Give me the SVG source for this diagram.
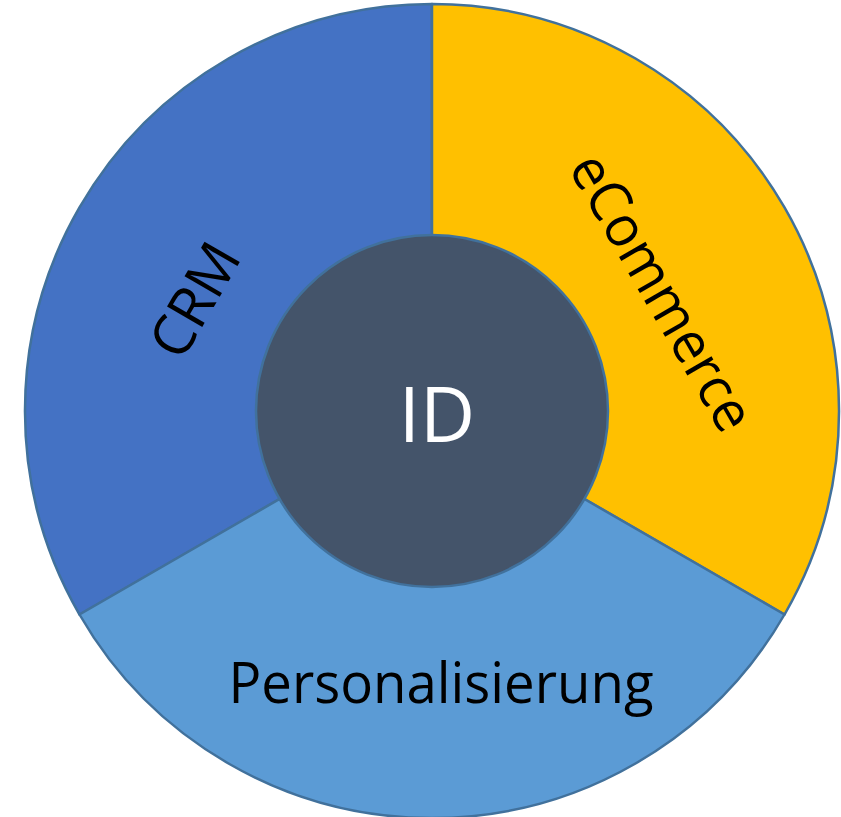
<svg xmlns="http://www.w3.org/2000/svg" width="841" height="817" viewBox="0 0 841 817">
<style>
.seg{stroke:#41719C;stroke-width:2.5;stroke-linejoin:round}
.lbl{font-family:"Open Sans","Noto Sans","Liberation Sans",sans-serif;font-size:57px;fill:#000}
.id{font-family:"Open Sans","Noto Sans","Liberation Sans",sans-serif;font-size:76px;fill:#fff}
</style>
<rect width="841" height="817" fill="#fff"/>
<g id="crm">
<path class="seg" fill="#4472C4" d="M432,411 L79.5,614.5 A407,407 0 0 1 432,4 Z"/>
<text class="lbl" transform="translate(212,310) rotate(-60)" text-anchor="middle" textLength="122" lengthAdjust="spacingAndGlyphs">CRM</text>
</g>
<g id="ecommerce">
<path class="seg" fill="#FFC000" d="M432,411 L432,4 A407,407 0 0 1 784.5,614.5 Z"/>
<text class="lbl" transform="translate(645,302) rotate(60)" text-anchor="middle" textLength="310" lengthAdjust="spacingAndGlyphs">eCommerce</text>
</g>
<g id="personalisierung">
<path class="seg" fill="#5B9BD5" d="M432,411 L784.5,614.5 A407,407 0 0 1 79.5,614.5 Z"/>
<text class="lbl" x="441" y="703" text-anchor="middle" textLength="425" lengthAdjust="spacingAndGlyphs">Personalisierung</text>
</g>
<g id="id">
<circle class="seg" cx="432" cy="411" r="176" fill="#44546A"/>
<text class="id" x="437" y="442" text-anchor="middle">ID</text>
</g>
</svg>
